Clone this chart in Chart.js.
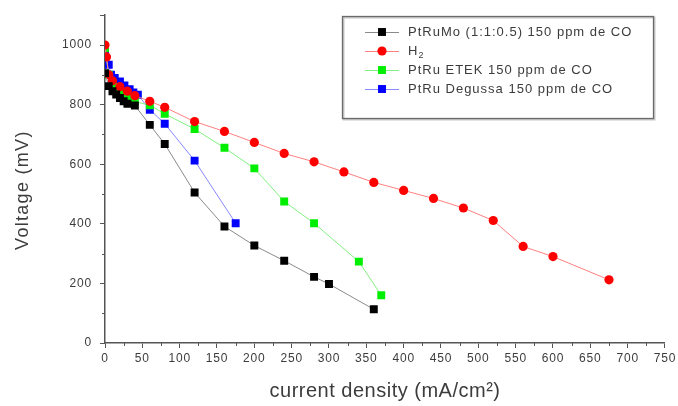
<!DOCTYPE html>
<html>
<head>
<meta charset="utf-8">
<script src="https://cdn.jsdelivr.net/npm/chart.js@4.4.0/dist/chart.umd.min.js"></script>
<style>
  html, body { margin: 0; padding: 0; background: #fff; }
  #wrap { width: 678px; height: 406px; }
</style>
</head>
<body>
<div id="wrap"><canvas id="polCurve" width="678" height="406"></canvas></div>
<script>
// Polarisation curves: current density (mA/cm2) vs cell voltage (mV)
const seriesLabels = ['PtRuMo (1:1:0.5) 150 ppm de CO', 'H2', 'PtRu ETEK 150 ppm de CO', 'PtRu Degussa 150 ppm de CO'];

const ptRuMoX = [0, 5, 10, 15, 20, 25, 30, 40, 60, 80, 120, 160, 200, 240, 280, 300, 360];
const ptRuMoY = [905, 862, 845, 834, 822, 811, 803, 797, 732, 668, 505, 391, 327, 276, 222, 198, 113];

const h2X = [0, 2, 5, 10, 20, 30, 40, 60, 80, 120, 160, 200, 240, 280, 320, 360, 400, 440, 480, 520, 560, 600, 675];
const h2Y = [1000, 960, 900, 880, 860, 845, 830, 811, 791, 743, 710, 673, 636, 608, 574, 539, 512, 485, 453, 411, 324, 290, 212];

const etekX = [0, 5, 10, 15, 20, 25, 30, 35, 40, 60, 80, 120, 160, 200, 240, 280, 340, 370];
const etekY = [990, 900, 873, 859, 845, 834, 825, 817, 810, 798, 769, 718, 655, 586, 475, 402, 273, 160];

const degussaX = [0, 5, 8, 13, 20, 26, 33, 38, 44, 60, 80, 120, 175];
const degussaY = [968, 934, 900, 889, 878, 864, 852, 841, 833, 783, 736, 612, 402];

const xTicksMajor = [0, 50, 100, 150, 200, 250, 300, 350, 400, 450, 500, 550, 600, 650, 700, 750];
const yTicksMajor = [0, 200, 400, 600, 800, 1000];

const xTitle = 'current density (mA/cm²)';
const yTitle = 'Voltage (mV)';

function pairs(xs, ys) {
    return xs.map((x, i) => ({ x: x, y: ys[i] }));
}

const fontFamily = '"Liberation Sans", Arial, sans-serif';
const inkColor = '#3c3c3c';
const axisColor = '#555';

const seriesStyle = [
    { marker: '#000000', line: '#8a8a8a', shape: 'rect', r: 5.6 },
    { marker: '#ff0000', line: '#ff8080', shape: 'circle', r: 4.6 },
    { marker: '#00ee00', line: '#80f080', shape: 'rect', r: 5.6 },
    { marker: '#0000ff', line: '#8888ff', shape: 'rect', r: 5.6 }
];

const seriesData = [
    pairs(ptRuMoX, ptRuMoY),
    pairs(h2X, h2Y),
    pairs(etekX, etekY),
    pairs(degussaX, degussaY)
];

// minor ticks, axis titles and the boxed legend are drawn by hand
const extrasPlugin = {
    id: 'extras',
    beforeDraw(chart) {
        chart.ctx.letterSpacing = '0.8px';
    },
    afterDraw(chart) {
        const ctx = chart.ctx;
        const xs = chart.scales.x, ys = chart.scales.y;
        ctx.save();
        ctx.strokeStyle = axisColor;
        ctx.lineWidth = 1;
        for (let v = 25; v < 750; v += 50) {
            const px = Math.round(xs.getPixelForValue(v)) + 0.5;
            ctx.beginPath();
            ctx.moveTo(px, ys.bottom);
            ctx.lineTo(px, ys.bottom + 3);
            ctx.stroke();
        }
        for (let v = 100; v <= 1100; v += 200) {
            const py = Math.round(ys.getPixelForValue(v)) + 0.5;
            ctx.beginPath();
            ctx.moveTo(xs.left, py);
            ctx.lineTo(xs.left - 3, py);
            ctx.stroke();
        }

        // axis titles
        ctx.fillStyle = inkColor;
        ctx.textAlign = 'center';
        ctx.textBaseline = 'alphabetic';
        ctx.letterSpacing = '0.5px';
        ctx.font = '20px ' + fontFamily;
        ctx.fillText(xTitle, (xs.left + xs.right) / 2, 397);

        ctx.save();
        ctx.translate(28, (ys.top + ys.bottom) / 2 + 11);
        ctx.rotate(-Math.PI / 2);
        ctx.letterSpacing = '1.3px';
        ctx.font = '18px ' + fontFamily;
        ctx.fillText(yTitle, 0, 0);
        ctx.restore();

        // legend box
        const bx = 342, by = 16, bw = 311, bh = 102;
        ctx.fillStyle = '#fff';
        ctx.fillRect(bx, by, bw, bh);
        ctx.strokeStyle = '#c8c8c8';
        ctx.lineWidth = 2;
        ctx.strokeRect(bx + 1.5, by + 1.5, bw, bh);
        ctx.strokeStyle = '#6a6a6a';
        ctx.lineWidth = 1.3;
        ctx.strokeRect(bx + 0.5, by + 0.5, bw, bh);

        const rowY = [32, 51, 70, 89];
        const legendFont = '13px ' + fontFamily;
        ctx.font = legendFont;
        ctx.letterSpacing = '1px';
        ctx.textBaseline = 'middle';
        chart.data.datasets.forEach((ds, i) => {
            const st = seriesStyle[i];
            const y = rowY[i];
            ctx.strokeStyle = st.line;
            ctx.lineWidth = 1;
            ctx.beginPath();
            ctx.moveTo(365, y + 0.5);
            ctx.lineTo(399, y + 0.5);
            ctx.stroke();
            ctx.fillStyle = st.marker;
            if (st.shape === 'circle') {
                ctx.beginPath();
                ctx.arc(382, y, st.r, 0, Math.PI * 2);
                ctx.fill();
            } else {
                const s = st.r * Math.SQRT1_2;
                ctx.fillRect(382 - s, y - s, 2 * s, 2 * s);
            }
            ctx.fillStyle = inkColor;
            ctx.textAlign = 'left';
            if (ds.label === 'H2') {
                ctx.fillText('H', 408, y);
                const w = ctx.measureText('H').width;
                ctx.font = '9px ' + fontFamily;
                ctx.fillText('2', 408 + w, y + 5);
                ctx.font = legendFont;
            } else {
                ctx.fillText(ds.label, 408, y);
            }
        });
        ctx.restore();
        ctx.letterSpacing = '0px';
    }
};

const ctx = document.getElementById('polCurve').getContext('2d');
const polChart = new Chart(ctx, {
    type: 'line',
    data: {
        datasets: seriesData.map((d, i) => ({
            label: seriesLabels[i],
            data: d,
            borderColor: seriesStyle[i].line,
            borderWidth: 1,
            backgroundColor: seriesStyle[i].marker,
            pointBackgroundColor: seriesStyle[i].marker,
            pointBorderWidth: 0,
            pointStyle: seriesStyle[i].shape,
            pointRadius: seriesStyle[i].r,
            tension: 0,
            fill: false
        }))
    },
    options: {
        responsive: false,
        animation: false,
        layout: {
            padding: { left: 0, right: 12, top: 15, bottom: 0 }
        },
        plugins: {
            legend: { display: false },
            tooltip: { enabled: false }
        },
        scales: {
            x: {
                type: 'linear',
                min: 0,
                max: 750,
                afterFit: function(scale) { scale.height = 63; },
                afterBuildTicks: function(scale) {
                    scale.ticks = xTicksMajor.map(v => ({ value: v }));
                },
                grid: {
                    drawOnChartArea: false,
                    drawTicks: true,
                    tickLength: 5,
                    tickColor: axisColor
                },
                border: { color: axisColor, width: 1.5 },
                ticks: {
                    color: inkColor,
                    padding: 3,
                    maxRotation: 0,
                    autoSkip: false,
                    font: { family: fontFamily, size: 12 }
                }
            },
            y: {
                min: 0,
                max: 1100,
                afterFit: function(scale) { scale.width = 105; },
                afterBuildTicks: function(scale) {
                    scale.ticks = yTicksMajor.concat([1100]).map(v => ({ value: v }));
                },
                grid: {
                    drawOnChartArea: false,
                    drawTicks: true,
                    tickLength: 5,
                    tickColor: axisColor
                },
                border: { color: axisColor, width: 1.5 },
                ticks: {
                    color: inkColor,
                    padding: 8,
                    autoSkip: false,
                    callback: function(v) { return yTicksMajor.includes(v) ? String(v) : ''; },
                    font: { family: fontFamily, size: 12 }
                }
            }
        }
    },
    plugins: [extrasPlugin]
});
</script>
</body>
</html>
